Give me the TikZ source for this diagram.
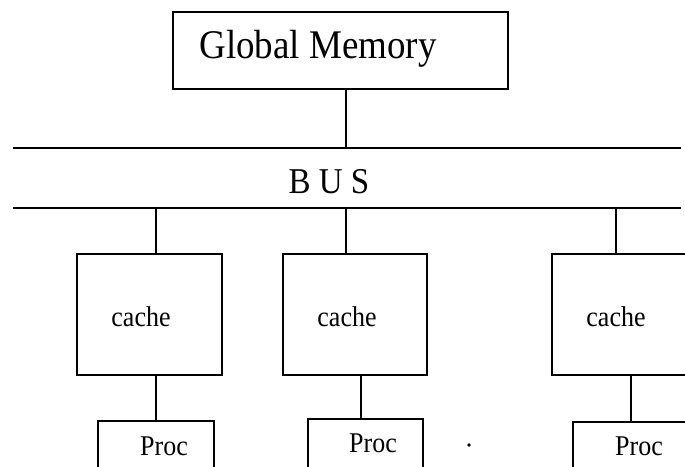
\documentclass[tikz,border=0pt]{standalone}
\usepackage{fontspec}
\setmainfont{Liberation Serif}
% labels are set slightly taller than the plain face
\newcommand{\tallish}[1]{\scalebox{1}[1.1]{#1}}
\begin{document}
\begin{tikzpicture}[x=1pt,y=-1pt,
  wire/.style={line width=1.6pt},
  unitbox/.style={draw, line width=1.6pt, inner sep=0pt, anchor=north west},
  cachebox/.style={unitbox, minimum width=145pt, minimum height=121pt},
  procbox/.style={unitbox, minimum width=116pt, minimum height=80pt},
  lbl/.style={inner sep=0pt, font=\fontsize{26}{30}\selectfont}]
\useasboundingbox (0,0) rectangle (685,466);
\clip (0,0) rectangle (685,466);

% global memory
\node[unitbox, minimum width=335pt, minimum height=77pt] (gm) at (172,11) {};
\node[inner sep=0pt, font=\fontsize{37}{40}\selectfont] (gmtext) at (318,49) {\tallish{Global Memory}};

% bus
\coordinate (busTL) at (13,148);
\coordinate (busTR) at (681,148);
\coordinate (busBL) at (13,208);
\coordinate (busBR) at (681,208);
\draw[wire] (busTL) -- (busTR);
\draw[wire] (busBL) -- (busBR);
\node[inner sep=0pt, font=\fontsize{33}{36}\selectfont] (bustext) at (329,182) {\tallish{B U S}};
\coordinate (gmtap) at (346,148);
\draw[wire] (gmtap |- gm.south) -- (gmtap);

% caches
\node[cachebox] (c1) at (76,253) {};
\node[cachebox, minimum width=144pt] (c2) at (282,253) {};
\node[cachebox] (c3) at (551,253) {};
\node[lbl] (ct1) at (141,317) {\tallish{cache}};
\node[lbl] (ct2) at (347,317) {\tallish{cache}};
\node[lbl] (ct3) at (616,317) {\tallish{cache}};

% processors
\node[procbox] (p1) at (97,420) {};
\node[procbox, minimum width=115pt] (p2) at (307,418) {};
\node[procbox] (p3) at (572,421) {};
\node[lbl] (pt1) at (164,446) {\tallish{Proc}};
\node[lbl] (pt2) at (373,443) {\tallish{Proc}};
\node[lbl] (pt3) at (639,446) {\tallish{Proc}};

% bus taps
\coordinate (t1) at (156,208);
\coordinate (t2) at (346,208);
\coordinate (t3) at (616,208);
\draw[wire] (t1) -- (t1 |- c1.north);
\draw[wire] (t2) -- (t2 |- c2.north);
\draw[wire] (t3) -- (t3 |- c3.north);

% cache to processor links
\coordinate (l1) at (156,400);
\coordinate (l2) at (361,400);
\coordinate (l3) at (631,400);
\draw[wire] (l1 |- c1.south) -- (l1 |- p1.north);
\draw[wire] (l2 |- c2.south) -- (l2 |- p2.north);
\draw[wire] (l3 |- c3.south) -- (l3 |- p3.north);

% stray mark
\fill (469,445) circle (1.8pt);
\end{tikzpicture}
\end{document}
